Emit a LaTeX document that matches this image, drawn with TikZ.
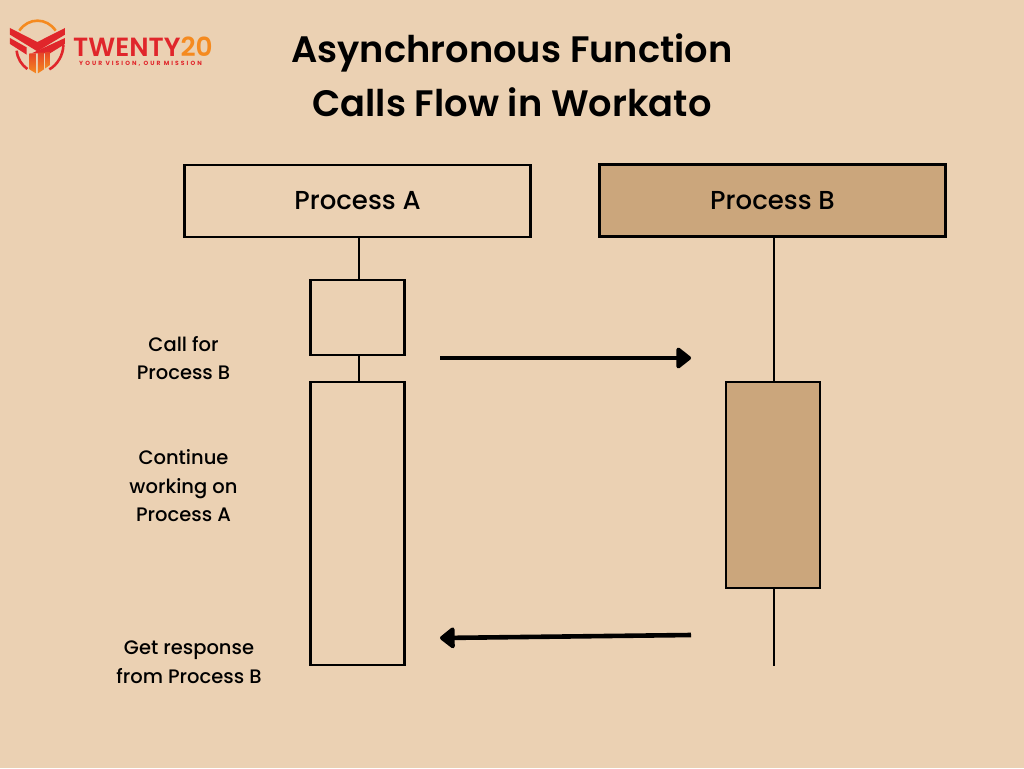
\documentclass[tikz,border=0pt]{standalone}
\usepackage{fontspec}
\setmainfont{Poppins Medium}
\newfontfamily\ttlfont{Poppins SemiBold}
\newfontfamily\brandfont{Poppins SemiBold}
\newfontfamily\mottofont[LetterSpace=34]{Poppins}[BoldFont={Poppins Bold}]
\usetikzlibrary{arrows.meta,positioning}
\definecolor{bgc}{HTML}{EBD1B3}
\definecolor{fillb}{HTML}{CBA67C}
\definecolor{logored}{HTML}{E0262B}
\definecolor{logoorange}{HTML}{F58A1F}
\tikzset{
  x=1pt,y=-1pt,
  boxbase/.style={draw=black,line width=2.6pt,minimum width=346pt,minimum height=72pt,inner sep=0pt,font=\fontsize{26}{28}\selectfont},
  boxb/.style={boxbase,fill=fillb},
  act/.style={draw=black,line width=2.6pt,inner sep=0pt,minimum width=94pt},
  link/.style={draw=black,line width=1.6pt},
  flow/.style={draw=black,line width=4.6pt,-{Triangle[length=16pt,width=24pt,round]}},
  lbl/.style={font=\fontsize{19.5}{28.5}\selectfont,align=center,inner sep=0pt},
  ttl/.style={font=\fontsize{36.8}{54}\ttlfont,align=center,inner sep=0pt},
  logopart/.style={fill=logored,draw=none},
  logopillar/.style={top color=logored!70!logoorange,bottom color=logoorange,draw=none}
}
\begin{document}
\begin{tikzpicture}
\useasboundingbox (0,0) rectangle (1024,768);
\fill[bgc] (0,0) rectangle (1024,768);

% logo (drawn in the 3x crop's coordinates)
\begin{scope}[shift={(0,10)},x=0.3333pt,y=-0.3333pt]
  \draw[logoorange,line width=2.6pt] (58,62) .. controls (85,22) and (140,22) .. (167,62);
  \draw[logored,line width=2.6pt] (50,122) .. controls (52,145) and (65,165) .. (82,177);
  \draw[logored,line width=2.6pt] (190,105) .. controls (190,135) and (172,165) .. (148,178);
  \fill[logopart] (30,54) -- (112,96) -- (195,54) -- (195,74) -- (112,124) -- (30,74) -- cycle;
  \fill[logopart] (30,84) -- (80,112) -- (80,134) -- (30,102) -- cycle;
  \fill[logopart] (195,84) -- (195,102) -- (150,130) -- (95,130) -- cycle;
  \shade[logopillar] (88,130) -- (108,130) -- (108,190) -- (88,178) -- cycle;
  \shade[logopillar] (114,128) -- (132,128) -- (132,178) -- (114,190) -- cycle;
  \shade[logopillar] (136,126) -- (150,126) -- (150,165) -- (136,175) -- cycle;
\end{scope}
\node[inner sep=0pt,anchor=west,text=logored,font=\fontsize{26.3}{26}\brandfont] (brand) at (73,46.5) {TWENTY\textcolor{logoorange}{20}};
\node[inner sep=0pt,anchor=west,text=logored,font=\fontsize{6}{7}\mottofont\bfseries] (motto) at (79,64) {YOUR VISION, OUR MISSION};

\node[ttl] (title) at (512,75) {Asynchronous Function\\Calls Flow in Workato};

\node[boxbase] (pa) at (357.5,201) {Process A};
\node[boxb] (pb) at (772.5,200.5) {Process B};

\node[act,minimum height=75pt] (a1) at (357.5,317.5) {};
\node[act,minimum height=283pt] (a2) at (357.5,523.5) {};
\node[act,fill=fillb,minimum height=206pt] (b1) at (773,485) {};

\coordinate (ax) at (359,0);
\coordinate (bx) at (774,0);
\coordinate (bend) at (774,666);
\draw[link] (pa.south -| ax) -- (a1.north -| ax);
\draw[link] (a1.south -| ax) -- (a2.north -| ax);
\draw[link] (pb.south -| bx) -- (b1.north -| bx);
\draw[link] (b1.south -| bx) -- (bend);

\coordinate (c1s) at (440,358);
\coordinate (c1e) at (691,358);
\coordinate (c2s) at (691,635);
\coordinate (c2e) at (440,638);
\draw[flow] (c1s) -- (c1e);
\draw[flow] (c2s) -- (c2e);

\node[lbl] (l1) at (183.5,358) {Call for\\Process B};
\node[lbl] (l2) at (183.5,486) {Continue\\working on\\Process A};
\node[lbl] (l3) at (189,662) {Get response\\from Process B};
\end{tikzpicture}
\end{document}
